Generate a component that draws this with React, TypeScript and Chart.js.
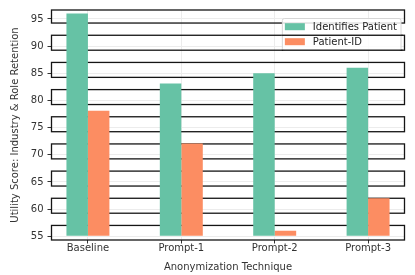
import { useEffect, useRef } from "react";
import { Chart, registerables } from "chart.js";

Chart.register(...registerables);

// ---- data ----
const categories = ["Baseline", "Prompt-1", "Prompt-2", "Prompt-3"];
const seriesLabels = ["Identifies Patient", "Patient-ID"];
const identifiesPatient = [96.0, 83.1, 85.0, 86.0];
const patientId = [78.1, 72.1, 56.0, 62.0];
const yTicks = [55, 60, 65, 70, 75, 80, 85, 90, 95];
const barBase = 55;
const yMin = 54.32;
const yMax = 96.65;
const xMin = -0.39;
const xMax = 3.39;

// ---- style ----
const FONT = '"DejaVu Sans", sans-serif';
const TEXT = "#333333";
const GREEN = "#66c2a5";
const ORANGE = "#fc8d62";
const BAND_ABOVE = 2.0;
const BAND_BELOW = 0.75;

function bandRects(chart: any) {
  const y = chart.scales.y;
  const ca = chart.chartArea;
  return yTicks.map((v) => {
    const top = Math.max(y.getPixelForValue(v + BAND_ABOVE), ca.top);
    const bot = Math.min(y.getPixelForValue(v - BAND_BELOW), ca.bottom);
    return { x: ca.left, y: top, w: ca.right - ca.left, h: bot - top };
  });
}

function strokeBands(ctx: CanvasRenderingContext2D, rects: any[]) {
  ctx.save();
  ctx.lineWidth = 1.3;
  ctx.strokeStyle = "#151515";
  rects.forEach((r) => ctx.strokeRect(r.x, r.y, r.w, r.h));
  ctx.restore();
}

function legendRect(chart: any) {
  const ctx: CanvasRenderingContext2D = chart.ctx;
  ctx.save();
  ctx.font = `10px ${FONT}`;
  const tw = Math.max(...seriesLabels.map((t) => ctx.measureText(t).width));
  ctx.restore();
  const w = 3 + 20 + 8 + tw + 3.5;
  const h = 32;
  const ca = chart.chartArea;
  const right = ca.right - 4;
  const top = ca.top + 8;
  return { x: right - w, y: top, w, h };
}

const bandPlugin = {
  id: "bands",
  beforeDatasetsDraw(chart: any) {
    strokeBands(chart.ctx, bandRects(chart));
  },
  afterDraw(chart: any) {
    const ctx: CanvasRenderingContext2D = chart.ctx;
    const L = legendRect(chart);
    ctx.save();
    ctx.fillStyle = "rgba(255,255,255,0.85)";
    ctx.strokeStyle = "#d6d6d6";
    ctx.lineWidth = 1;
    ctx.beginPath();
    (ctx as any).roundRect(L.x + 0.5, L.y + 0.5, L.w, L.h, 2);
    ctx.fill();
    ctx.stroke();
    ctx.font = `10px ${FONT}`;
    ctx.textBaseline = "middle";
    ctx.textAlign = "left";
    chart.data.datasets.forEach((ds: any, i: number) => {
      const cy = L.y + 8.7 + i * 15;
      ctx.fillStyle = ds.backgroundColor;
      ctx.fillRect(L.x + 3, cy - 3.5, 20, 7);
      ctx.fillStyle = "#222222";
      ctx.fillText(ds.label, L.x + 31, cy + 0.5);
    });
    ctx.restore();
    // bands that start inside the legend are drawn above it
    ctx.save();
    ctx.beginPath();
    ctx.rect(L.x, L.y, L.w + 2, L.h + 2);
    ctx.clip();
    strokeBands(
      ctx,
      bandRects(chart).filter((r) => r.y > L.y)
    );
    ctx.restore();
  },
};

export default function App() {
  const ref = useRef<HTMLCanvasElement | null>(null);

  useEffect(() => {
    if (!ref.current) return;
    const font = { family: FONT, size: 10 };
    const chart = new Chart(ref.current, {
      type: "bar",
      data: {
        datasets: [
          {
            label: seriesLabels[0],
            data: identifiesPatient.map((v, i) => ({ x: i, y: v })),
            backgroundColor: GREEN,
            borderWidth: 0,
            base: barBase,
          } as any,
          {
            label: seriesLabels[1],
            data: patientId.map((v, i) => ({ x: i, y: v })),
            backgroundColor: ORANGE,
            borderWidth: 0,
            base: barBase,
          } as any,
        ],
      },
      options: {
        responsive: false,
        animation: false,
        devicePixelRatio: 1,
        layout: { padding: { top: 9.3, right: 10.5, left: 0, bottom: 0 } },
        datasets: { bar: { categoryPercentage: 0.46, barPercentage: 1 } } as any,
        plugins: {
          legend: { display: false },
          tooltip: { enabled: false },
        },
        scales: {
          x: {
            type: "linear",
            offset: false,
            min: xMin,
            max: xMax,
            afterBuildTicks: (s: any) => {
              s.ticks = categories.map((_, i) => ({ value: i }));
            },
            afterFit: (s: any) => {
              s.height = 35;
            },
            ticks: {
              font,
              color: TEXT,
              padding: -1,
              autoSkip: false,
              maxRotation: 0,
              callback: (v: any) => categories[v as number],
            },
            grid: {
              offset: false,
              color: "#ececec",
              lineWidth: 1,
              tickColor: "#333333",
              tickLength: 3.5,
            },
            border: { display: false },
            title: {
              display: true,
              text: "Anonymization Technique",
              font,
              color: TEXT,
              padding: { top: 0, bottom: 2 },
            },
          },
          y: {
            min: yMin,
            max: yMax,
            afterBuildTicks: (s: any) => {
              s.ticks = yTicks.map((v) => ({ value: v }));
            },
            afterFit: (s: any) => {
              s.width = 51.5;
            },
            ticks: { font, color: TEXT, padding: 4 },
            grid: {
              color: "#ececec",
              lineWidth: 1,
              tickColor: "#333333",
              tickLength: 4,
            },
            border: { display: false },
            title: {
              display: true,
              text: "Utility Score: Industry & Role Retention",
              font,
              color: TEXT,
              padding: { top: 9, bottom: 0 },
            },
          },
        },
      } as any,
      plugins: [bandPlugin],
    });
    return () => chart.destroy();
  }, []);

  return (
    <canvas
      ref={ref}
      width={415}
      height={275}
      style={{ position: "fixed", left: 0, top: 0, width: 415, height: 275 }}
    />
  );
}
